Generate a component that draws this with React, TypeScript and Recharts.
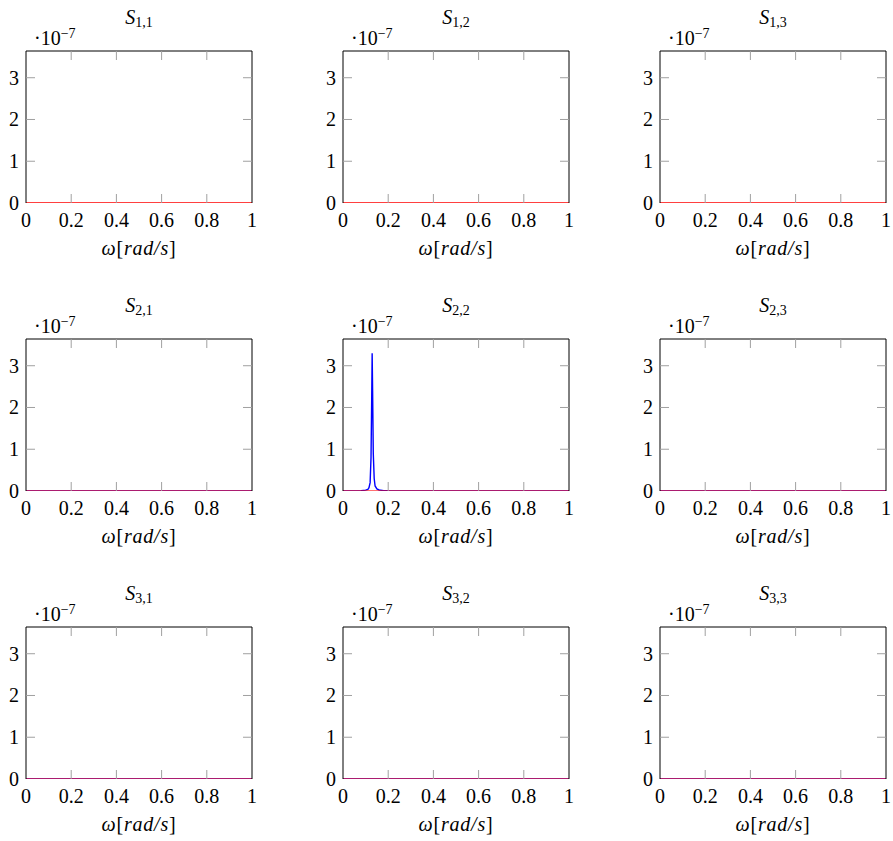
import React from "react";
import { LineChart, Line, XAxis, YAxis } from "recharts";

// ---- data (values in units of 1e-7) ----
const panelIds = [
  ["1,1", "1,2", "1,3"],
  ["2,1", "2,2", "2,3"],
  ["3,1", "3,2", "3,3"],
];
const xTicks = [0, 0.2, 0.4, 0.6, 0.8, 1];
const yTicks = [0, 1, 2, 3];
const yMax = 3.64;

const flatOmega = [0, 0.25, 0.5, 0.75, 1];
const flatValues = [0, 0, 0, 0, 0];

const peakOmega = [0, 0.05, 0.08, 0.1, 0.11, 0.115, 0.12, 0.124, 0.127, 0.129, 0.131, 0.134, 0.138, 0.142, 0.15, 0.16, 0.18, 0.2, 0.3, 0.5, 1];
const peakValues = [0, 0.004, 0.01, 0.02, 0.04, 0.08, 0.2, 0.8, 2.2, 3.3, 2.4, 0.9, 0.3, 0.12, 0.05, 0.025, 0.01, 0.005, 0.002, 0.001, 0];

// which panels carry a (blue) second series
const blueRows = [false, true, true];

const flatData = flatOmega.map((x, i) => ({ x, y: flatValues[i] }));
const peakData = peakOmega.map((x, i) => ({ x, y: peakValues[i] }));

const FAM = "Liberation Serif";
const FS = 20;
const TICKC = "#a0a0a0";
const TL = 9;
const txt: React.CSSProperties = { fontFamily: FAM, fontSize: FS };
const sub: React.CSSProperties = { fontFamily: FAM, fontSize: 14 };

const plotLefts = [26, 343, 660];
const plotTops = [51, 339, 627];
const PW = 226;
const PH = 152;
const ML = 30, MT = 50, MR = 10, MB = 60;

const fmt = (v: number) => String(v);

const BottomTick = (props: any) => {
  const { x, y, payload } = props;
  const v = payload.value;
  return (
    <g>
      {v > 0 && v < 1 && <line x1={x} x2={x} y1={y} y2={y - TL} stroke={TICKC} />}
      <text x={x} y={y + 24} textAnchor="middle" fontFamily={FAM} fontSize={FS} style={txt} fill="#000">
        {fmt(v)}
      </text>
    </g>
  );
};
const TopTick = (props: any) => {
  const { x, y, payload } = props;
  const v = payload.value;
  return v > 0 && v < 1 ? <line x1={x} x2={x} y1={y} y2={y + TL} stroke={TICKC} /> : <g />;
};
const LeftTick = (props: any) => {
  const { x, y, payload } = props;
  const v = payload.value;
  return (
    <g>
      {v > 0 && <line x1={x} x2={x + TL} y1={y} y2={y} stroke={TICKC} />}
      <text x={x - 7} y={y + 7} textAnchor="end" fontFamily={FAM} fontSize={FS} style={txt} fill="#000">
        {fmt(v)}
      </text>
    </g>
  );
};
const RightTick = (props: any) => {
  const { x, y, payload } = props;
  const v = payload.value;
  return v > 0 ? <line x1={x} x2={x - TL} y1={y} y2={y} stroke={TICKC} /> : <g />;
};

const Panel = ({ r, c }: { r: number; c: number }) => {
  const id = panelIds[r][c];
  const hasBlue = blueRows[r];
  const isPeak = r === 1 && c === 1;
  return (
    <div style={{ position: "absolute", left: plotLefts[c] - ML, top: plotTops[r] - MT, fontFamily: FAM }}>
      <LineChart
        width={PW + ML + MR}
        height={PH + MT + MB}
        margin={{ top: MT - 1, left: ML - 1, right: MR - 1, bottom: MB - 1 }}
        style={{ fontFamily: FAM }}
      >
        <XAxis
          dataKey="x"
          type="number"
          domain={[0, 1]}
          ticks={xTicks}
          allowDataOverflow
          height={1}
          tickSize={0}
          tickMargin={0}
          tickLine={false}
          axisLine={false}
          tick={<BottomTick />}
          interval={0}
          label={{
            content: (p: any) => {
              const vb = p.viewBox;
              return (
                <text x={vb.x + vb.width / 2} y={vb.y + 52} textAnchor="middle" fontFamily={FAM} style={{ ...txt, fontStyle: "italic", letterSpacing: 0.8 }}>
                  <tspan>ω</tspan>
                  <tspan style={{ fontStyle: "normal" }}>[</tspan>
                  <tspan>rad/s</tspan>
                  <tspan style={{ fontStyle: "normal" }}>]</tspan>
                </text>
              );
            },
          }}
        />
        <XAxis
          xAxisId="top"
          orientation="top"
          dataKey="x"
          type="number"
          domain={[0, 1]}
          ticks={xTicks}
          allowDataOverflow
          height={1}
          tickSize={0}
          tickMargin={0}
          tickLine={false}
          axisLine={{ stroke: "#000" }}
          tick={<TopTick />}
          interval={0}
          label={{
            content: (p: any) => {
              const vb = p.viewBox;
              return (
                <g>
                  <text x={vb.x + vb.width / 2} y={vb.y - 26} textAnchor="middle" fontFamily={FAM} style={txt}>
                    <tspan style={{ fontStyle: "italic" }}>S</tspan>
                    <tspan style={sub} dy={3}>{id}</tspan>
                  </text>
                  <text x={vb.x + 8} y={vb.y - 5} fontFamily={FAM} style={txt}>
                    <tspan>·10</tspan>
                    <tspan style={sub} dy={-7}>−7</tspan>
                  </text>
                </g>
              );
            },
          }}
        />
        <YAxis
          type="number"
          domain={[0, yMax]}
          ticks={yTicks}
          allowDataOverflow
          width={1}
          tickSize={0}
          tickMargin={0}
          tickLine={false}
          axisLine={{ stroke: "#000" }}
          tick={<LeftTick />}
          interval={0}
        />
        <YAxis
          yAxisId="right"
          orientation="right"
          type="number"
          domain={[0, yMax]}
          ticks={yTicks}
          allowDataOverflow
          width={1}
          tickSize={0}
          tickMargin={0}
          tickLine={false}
          axisLine={{ stroke: "#000" }}
          tick={<RightTick />}
          interval={0}
        />
        {hasBlue && (
          <Line
            data={isPeak ? peakData : flatData}
            dataKey="y"
            stroke="#0000ff"
            strokeWidth={1.4}
            dot={false}
            isAnimationActive={false}
            type="linear"
          />
        )}
        <Line
          data={flatData}
          dataKey="y"
          stroke="#ff0000"
          strokeOpacity={hasBlue ? 0.75 : 1}
          strokeWidth={1.6}
          dot={false}
          isAnimationActive={false}
          type="linear"
        />
      </LineChart>
    </div>
  );
};

export default function App() {
  const cells: React.ReactNode[] = [];
  for (let r = 0; r < 3; r++) for (let c = 0; c < 3; c++) cells.push(<Panel key={`${r}-${c}`} r={r} c={c} />);
  return (
    <div style={{ position: "absolute", left: 0, top: 0, width: 893, height: 841, background: "#fff", fontFamily: FAM }}>
      {cells}
    </div>
  );
}
